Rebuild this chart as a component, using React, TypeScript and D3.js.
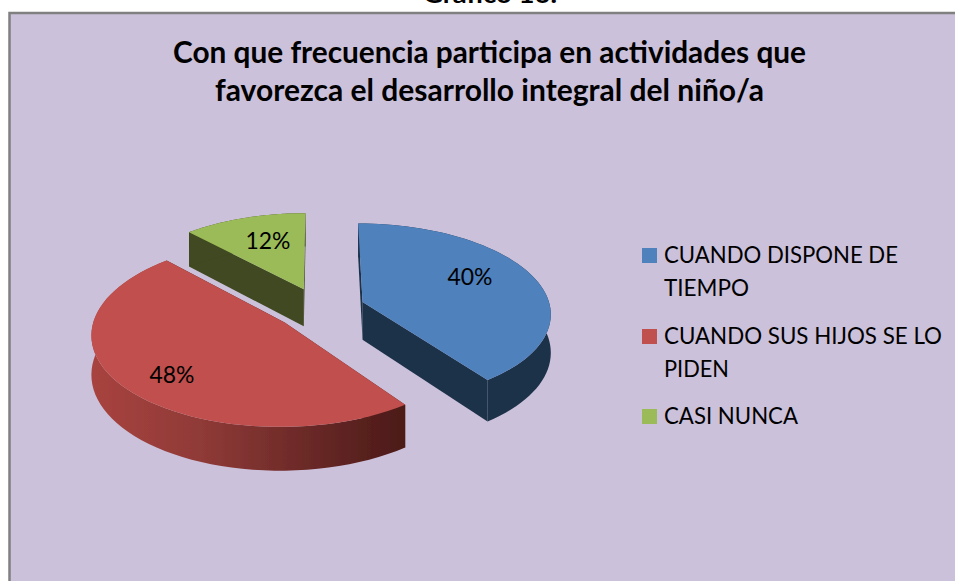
import React from "react";
import * as d3 from "d3";

const categories = ["CUANDO DISPONE DE TIEMPO", "CUANDO SUS HIJOS SE LO PIDEN", "CASI NUNCA"];
const values = [40, 48, 12];
const topColors = ["#4f81bd", "#c0504d", "#9bbb59"];
const wallColors = ["#1d3149", "url(#redWall)", "#3f4a20"];
const titleLines = ["Con que frecuencia participa en actividades que", "favorezca el desarrollo integral del niño/a"];
const legendLines = [["CUANDO DISPONE DE", "TIEMPO"], ["CUANDO SUS HIJOS SE LO", "PIDEN"], ["CASI NUNCA"]];
const legendLineWidths = [[234, 85], [278, 65], [134]];
const legendBaselines = [[263, 296], [344, 377], [424]];
const labelPos = [[470, 285], [172, 383], [268, 249]];

const W = 955, H = 581;
const FONT = "Lato, Carlito, 'Open Sans', sans-serif";
const cx = 320, cy = 308.6, rx = 188, ry = 89, k = 0.115, explode = 0.24, depth = 38;

const project = (X: number, V: number, drop = 0): [number, number] => {
  const s = 1 / (1 - k * V);
  return [cx + rx * X * s, cy + ry * V * s + drop * s];
};

const arcs = d3.pie<number>().sort(null).startAngle(0).endAngle(2 * Math.PI)(values);
const lineGen = d3.line();

function slicePaths(a: d3.PieArcDatum<number>) {
  const mid = (a.startAngle + a.endAngle) / 2;
  const ox = explode * Math.sin(mid), ov = -explode * Math.cos(mid);
  const angles = d3.range(0, 61).map((i) => d3.interpolateNumber(a.startAngle, a.endAngle)(i / 60));
  const rim = (drop: number) => angles.map((t) => project(ox + Math.sin(t), ov - Math.cos(t), drop));
  const c0 = project(ox, ov), c1 = project(ox, ov, depth);
  const top = rim(0), bottom = rim(depth);
  const first = 0, last = top.length - 1;
  return {
    top: lineGen([c0, ...top])! + "Z",
    outer: lineGen([...top, ...bottom.slice().reverse()])! + "Z",
    cutA: lineGen([c0, top[first], bottom[first], c1])! + "Z",
    cutB: lineGen([c0, top[last], bottom[last], c1])! + "Z",
  };
}

export default function App() {
  const paths = arcs.map(slicePaths);
  const order = [2, 1, 0];
  return (
    <svg width={W} height={H} style={{ position: "absolute", left: 0, top: 0, display: "block", background: "#fff" }}>
      <defs>
        <linearGradient id="redWall" x1="0" x2="1" y1="0" y2="0">
          <stop offset="0" stopColor="#a8433f" />
          <stop offset="0.35" stopColor="#8f3a37" />
          <stop offset="0.75" stopColor="#642624" />
          <stop offset="1" stopColor="#4c1a18" />
        </linearGradient>
        <filter id="soft" x="-5%" y="-5%" width="110%" height="110%">
          <feGaussianBlur stdDeviation="0.5" />
        </filter>
      </defs>
      <text x={490} y={3} textAnchor="middle" fontFamily={FONT} fontWeight={700} fontSize={25} textLength={134} lengthAdjust="spacingAndGlyphs" fill="#000">Gráfico 16.</text>
      <rect x={9.5} y={13} width={W + 10} height={H + 10} fill="#cbc1da" stroke="#808080" strokeWidth={2.5} />
      {titleLines.map((t, i) => (
        <text key={i} x={489.5} y={63 + i * 38} textAnchor="middle" fontFamily={FONT} fontWeight={700} fontSize={30}
          textLength={i === 0 ? 633 : 549} lengthAdjust="spacingAndGlyphs" fill="#000">{t}</text>
      ))}
      <g filter="url(#soft)">
        {order.map((i) => (
          <g key={i}>
            <path d={paths[i].cutA} fill={i === 1 ? "#4c1a18" : wallColors[i]} />
            <path d={paths[i].cutB} fill={i === 1 ? "#4c1a18" : wallColors[i]} />
            <path d={paths[i].outer} fill={wallColors[i]} />
            <path d={paths[i].top} fill={topColors[i]} />
          </g>
        ))}
      </g>
      {arcs.map((a, i) => (
        <text key={i} x={labelPos[i][0]} y={labelPos[i][1]} textAnchor="middle" fontFamily={FONT} fontSize={23}
          textLength={45} lengthAdjust="spacingAndGlyphs" fill="#000">{`${values[i]}%`}</text>
      ))}
      {categories.map((c, i) => (
        <g key={c}>
          <rect x={642} y={legendBaselines[i][0] - 15} width={15} height={15} fill={topColors[i]} />
          {legendLines[i].map((l, j) => (
            <text key={j} x={664} y={legendBaselines[i][j]} fontFamily={FONT} fontSize={23}
              textLength={legendLineWidths[i][j]} lengthAdjust="spacingAndGlyphs" fill="#000">{l}</text>
          ))}
        </g>
      ))}
    </svg>
  );
}
